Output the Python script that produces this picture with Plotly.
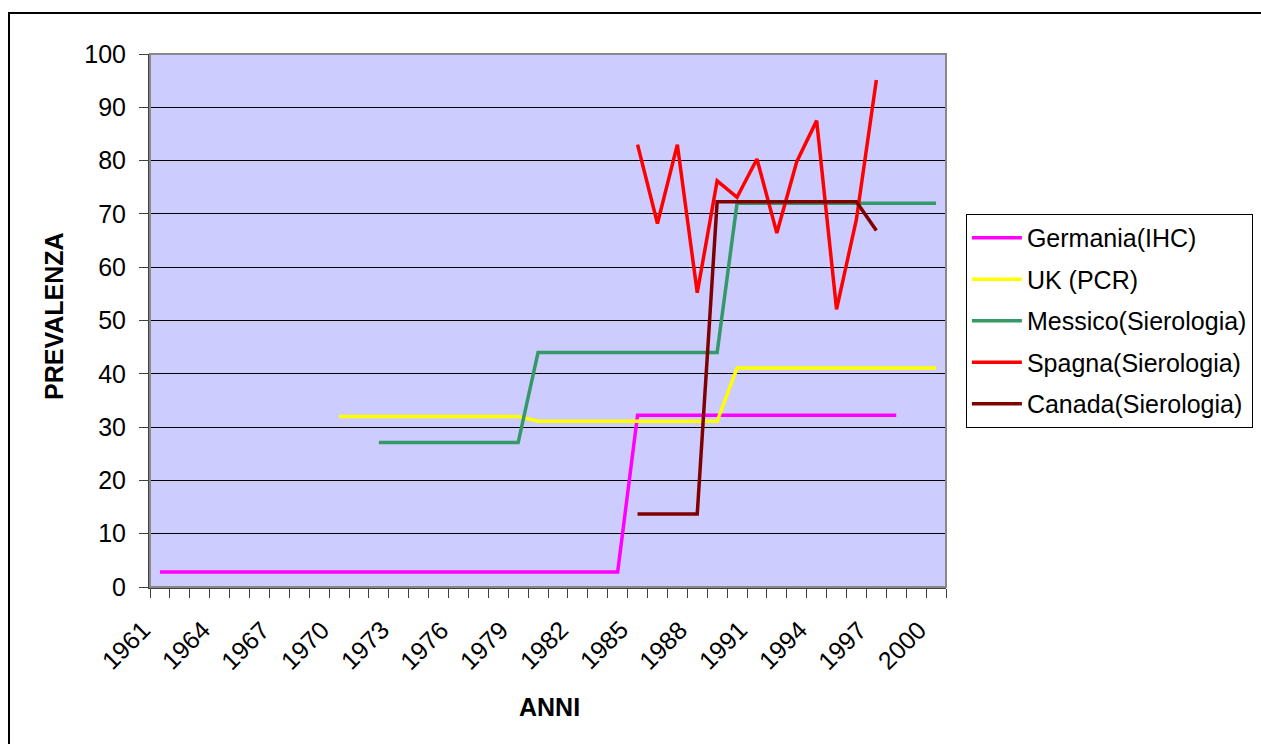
import plotly.graph_objects as go

years = [str(y) for y in range(1961, 2001)]
tick_labels = ["1961", "1964", "1967", "1970", "1973", "1976", "1979", "1982",
               "1985", "1988", "1991", "1994", "1997", "2000"]

N = None
germania = [2.8, 2.8, 2.8, 2.8, 2.8, 2.8, 2.8, 2.8, 2.8, 2.8,
            2.8, 2.8, 2.8, 2.8, 2.8, 2.8, 2.8, 2.8, 2.8, 2.8,
            2.8, 2.8, 2.8, 2.8, 32.2, 32.2, 32.2, 32.2, 32.2, 32.2,
            32.2, 32.2, 32.2, 32.2, 32.2, 32.2, 32.2, 32.2, N, N]
uk = [N, N, N, N, N, N, N, N, N, 32.0,
      32.0, 32.0, 32.0, 32.0, 32.0, 32.0, 32.0, 32.0, 32.0, 31.1,
      31.1, 31.1, 31.1, 31.1, 31.1, 31.1, 31.1, 31.1, 31.1, 41.1,
      41.1, 41.1, 41.1, 41.1, 41.1, 41.1, 41.1, 41.1, 41.1, 41.1]
messico = [N, N, N, N, N, N, N, N, N, N,
           N, 27.1, 27.1, 27.1, 27.1, 27.1, 27.1, 27.1, 27.1, 44.0,
           44.0, 44.0, 44.0, 44.0, 44.0, 44.0, 44.0, 44.0, 44.0, 72.0,
           72.0, 72.0, 72.0, 72.0, 72.0, 72.0, 72.0, 72.0, 72.0, 72.0]
spagna = [N, N, N, N, N, N, N, N, N, N,
          N, N, N, N, N, N, N, N, N, N,
          N, N, N, N, 83.0, 68.2, 83.0, 55.2, 76.2, 73.1,
          80.3, 66.4, 79.8, 87.5, 52.1, 69.0, 95.1, N, N, N]
canada = [N, N, N, N, N, N, N, N, N, N,
          N, N, N, N, N, N, N, N, N, N,
          N, N, N, N, 13.7, 13.7, 13.7, 13.7, 72.3, 72.3,
          72.3, 72.3, 72.3, 72.3, 72.3, 72.3, 66.9, N, N, N]

series = [
    ("Germania(IHC)", germania, "#FF00FF"),
    ("UK (PCR)", uk, "#FFFF00"),
    ("Messico(Sierologia)", messico, "#339966"),
    ("Spagna(Sierologia)", spagna, "#FF0000"),
    ("Canada(Sierologia)", canada, "#800000"),
]

FONT = "Arial, 'Liberation Sans', sans-serif"
FS = 25
LABEL_SHIFT = -1.71   # Excel draws rotated labels left of the category centre
LABEL_Y = (587 - 645) / 533
idx = list(range(len(years)))
ncat = len(years)

fig = go.Figure()
for name, vals, col in series:
    fig.add_trace(go.Scatter(
        x=idx, y=vals, name=name, mode="lines", legendgroup=name,
        line=dict(color=col, width=3.5), connectgaps=False,
    ))

# rotated category labels (every third year), placed relative to the category axis
tick_annots = [
    dict(text=t, xref="paper", yref="paper",
         x=(years.index(t) + 0.5 + LABEL_SHIFT) / ncat, y=LABEL_Y,
         textangle=-45, showarrow=False, xanchor="center", yanchor="middle",
         font=dict(size=FS, family=FONT, color="black"))
    for t in tick_labels
]

fig.update_layout(
    width=1261, height=744,
    margin=dict(l=150, r=315, t=54, b=157, autoexpand=False),
    paper_bgcolor="white", plot_bgcolor="#CCCCFF",
    font=dict(family=FONT, size=FS, color="black"),
    showlegend=True,
    legend=dict(
        x=1.025, y=0.70, xanchor="left", yanchor="top",
        bgcolor="white", bordercolor="black", borderwidth=1,
        font=dict(family=FONT, size=FS, color="black"),
        tracegroupgap=6, traceorder="grouped", itemwidth=50,
    ),
    xaxis=dict(
        range=[-0.5, ncat - 0.5],
        showticklabels=False,
        ticks="", showgrid=False, zeroline=False, automargin=False,
        showline=True, linecolor="#404040", linewidth=2,
        minor=dict(tickmode="linear", tick0=-0.5, dtick=1, ticks="outside",
                   ticklen=9, tickcolor="#404040", tickwidth=1, showgrid=False),
    ),
    yaxis=dict(
        range=[0, 100], tickmode="linear", tick0=0, dtick=10,
        ticks="outside", ticklen=9, tickcolor="#404040", automargin=False,
        showgrid=True, gridcolor="black", gridwidth=1,
        zeroline=False, showline=True, linecolor="#404040", linewidth=2,
        tickfont=dict(size=FS),
        ticklabelstandoff=8,
    ),
    shapes=[
        dict(type="rect", xref="paper", yref="paper", x0=0, x1=1, y0=0, y1=1,
             line=dict(color="#888888", width=2), layer="above"),
        dict(type="rect", xref="paper", yref="paper",
             x0=(9 - 150) / 796, x1=(1270 - 150) / 796,
             y0=(587 - 760) / 533, y1=(587 - 13) / 533,
             line=dict(color="black", width=2), layer="below"),
    ],
    annotations=tick_annots + [
        dict(text="<b>PREVALENZA</b>", xref="paper", yref="paper",
             x=(54 - 150) / 796, y=(587 - 316) / 533, textangle=-90, showarrow=False,
             font=dict(size=FS, family=FONT), xanchor="center", yanchor="middle"),
        dict(text="<b>ANNI</b>", xref="paper", yref="paper",
             x=(549 - 150) / 796, y=(587 - 707) / 533, showarrow=False,
             font=dict(size=FS, family=FONT), xanchor="center", yanchor="middle"),
    ],
)

fig.write_html("out.html")
